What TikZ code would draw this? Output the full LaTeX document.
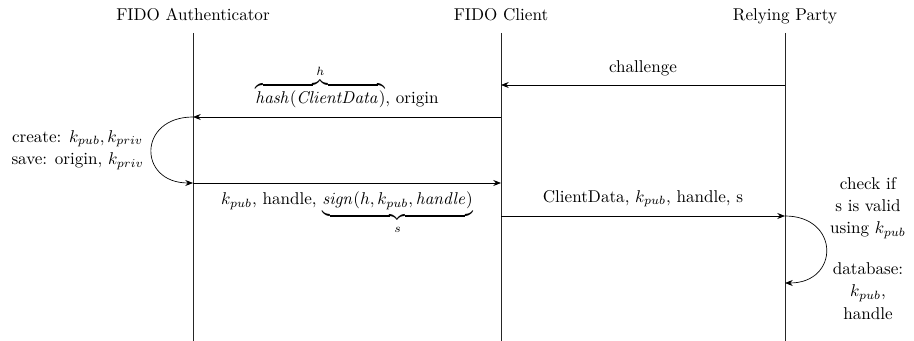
\documentclass[tikz,border=0pt]{standalone}
\usetikzlibrary{arrows.meta}
\begin{document}
\begin{tikzpicture}[x=0.585pt,y=-0.585pt,
  actor/.style={inner sep=0pt,anchor=base},
  life/.style={draw=black!85,line width=0.4pt},
  msg/.style={draw,-{Stealth[length=4.5pt,width=3.5pt]},line width=0.4pt},
  lbl/.style={inner sep=0pt},
  note/.style={align=center,inner sep=0pt}]
\useasboundingbox (0,0) rectangle (914,341);
% actors
\node[actor] (A) at (193,21) {FIDO Authenticator};
\node[actor] (C) at (501,21) {FIDO Client};
\node[actor] (R) at (785,21) {Relying Party};
% lifeline endpoints
\coordinate (At) at (193,33); \coordinate (Ab) at (193,341);
\coordinate (Ct) at (501,33); \coordinate (Cb) at (501,341);
\coordinate (Rt) at (785,33); \coordinate (Rb) at (785,341);
\draw[life] (At) -- (Ab);
\draw[life] (Ct) -- (Cb);
\draw[life] (Rt) -- (Rb);
% message points
\coordinate (R1) at (785,85);  \coordinate (C1) at (501,85);
\coordinate (C2) at (501,117); \coordinate (A2) at (193,117);
\coordinate (A3) at (193,183); \coordinate (C3) at (501,183);
\coordinate (C4) at (501,216); \coordinate (R4) at (785,216);
\coordinate (R5) at (785,283);
% messages
\draw[msg] (R1) -- node[lbl,above=5pt] (l1) {challenge} (C1);
\draw[msg] (C2) -- node[lbl,above=5pt] (l2) {$\overbrace{\mathit{hash}(\mathit{ClientData})}^{h}$, origin} (A2);
\draw[msg] (A2) to[out=180,in=180,looseness=2.15] (A3);
\draw[msg] (A3) -- node[lbl,below=5pt] (l3) {$k_{pub}$, handle, $\underbrace{\mathit{sign}(h,k_{pub},\mathit{handle})}_{s}$} (C3);
\draw[msg] (C4) -- node[lbl,above=5pt] (l4) {ClientData, $k_{pub}$, handle, s} (R4);
\draw[msg] (R4) to[out=0,in=0,looseness=2.1] (R5);
% notes
\node[note,anchor=east] (n1) at (144,150) {create: $k_{pub}, k_{priv}$\\[1pt] save: origin, $k_{priv}$};
\node[note] (n2) at (868,208) {check if\\[1pt] s is valid\\[1pt] using $k_{pub}$};
\node[note] (n3) at (868,291) {database:\\[1pt] $k_{pub}$,\\[1pt] handle};
\end{tikzpicture}
\end{document}
